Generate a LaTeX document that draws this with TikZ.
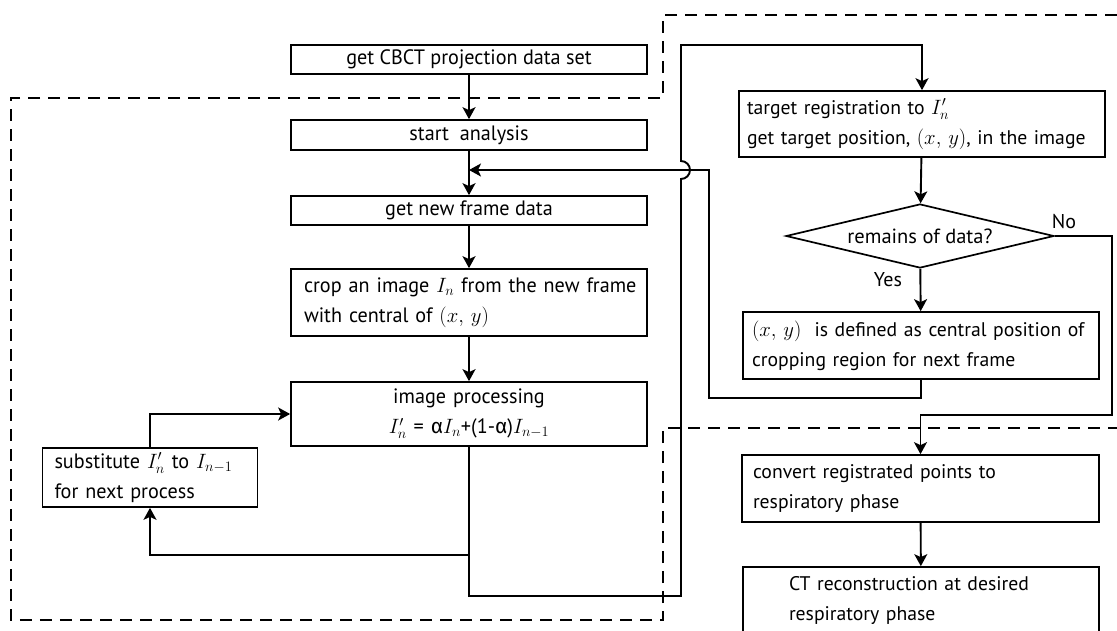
\documentclass[tikz,border=0pt]{standalone}
\usepackage{fontspec}
\setmainfont{PT Sans}
\newfontfamily\condfont[FakeStretch=0.97]{PT Sans}
\newfontfamily\grkfont{Fira Sans}
\usetikzlibrary{arrows.meta,shapes.geometric}
\begin{document}
\begin{tikzpicture}[x=1pt,y=-1pt,
  box/.style={draw,line width=1.7pt,inner ysep=0pt,minimum height=#1},
  lbox/.style={box=#1,font=\condfont\fontsize{20.8}{30}\selectfont},
  rbox/.style={box=#1,font=\fontsize{19.7}{30}\selectfont},
  arr/.style={line width=1.9pt,-{Stealth[length=12pt,width=13pt,inset=3pt]}},
  dsh/.style={line width=1.4pt,dash pattern=on 12pt off 8pt},
  lab/.style={font=\fontsize{20}{22}\selectfont,inner sep=0pt}]
\clip (0,0) rectangle (1117,630);
\useasboundingbox (0,0) rectangle (1117,630);
% left column
\node[lbox=29pt,minimum width=356pt,inner xsep=0pt] (b1) at (469,59.5) {get CBCT projection data set};
\node[lbox=30pt,minimum width=356pt,inner xsep=0pt] (b2) at (469,135) {start\ \ analysis};
\node[lbox=29pt,minimum width=356pt,inner xsep=0pt] (b3) at (469,210.5) {get new frame data};
\node[lbox=67pt,inner xsep=6pt,text width=344pt,align=left] (b4) at (469,302.5)
  {\hspace*{7pt}crop an image $I_n$ from the new frame\\\hspace*{7pt}with central of $(x,\,y)$};
\node[lbox=64pt,inner xsep=0pt,text width=356pt,align=center] (b5) at (469,414)
  {image processing\\$I_n'$ = {\grkfont α}$I_n$+(1-{\grkfont α})$I_{n-1}$};
\node[lbox=59pt,inner xsep=12pt,text width=191pt,align=left] (b6) at (150,477.5)
  {substitute $I_n'$ to $I_{n-1}$\\for next process};
% right column
\node[rbox=66pt,inner xsep=8pt,text width=350pt,align=left] (b7) at (922,124)
  {target registration to $I_n'$\\get target position, $(x,\,y)$, in the image};
\node[draw,diamond,line width=1.7pt,aspect=4.19,inner sep=0pt,minimum width=268pt,minimum height=64pt,
  font=\fontsize{20.5}{22}\selectfont] (d) at (920,236) {remains of data?};
\node[rbox=67pt,inner xsep=9pt,text width=338pt,align=left] (b8) at (921,345.5)
  {$(x,\,y)$\ \ is defined as central position of\\cropping region for next frame};
\node[rbox=67pt,inner xsep=11pt,text width=335pt,align=left] (b9) at (920.5,488.5)
  {convert registrated points to\\respiratory phase};
\node[rbox=67pt,inner xsep=46pt,text width=264pt,align=left] (b10) at (921,600.5)
  {CT reconstruction at desired\\respiratory phase};
\node[lab] (no) at (1064,222) {No};
\node[lab] (yes) at (888,280) {Yes};
% coordinates
\coordinate (j1) at (469,555);
\coordinate (j2) at (469,596);
\coordinate (j3) at (681,596);
\coordinate (j4) at (681,45);
\coordinate (k1) at (1112,236);
\coordinate (k2) at (1112,415);
\coordinate (k3) at (920.5,415);
\coordinate (m1) at (921,398);
\coordinate (m2) at (709,398);
\coordinate (m3) at (709,170);
\coordinate (m4) at (469,170);
% connectors
\draw[arr] (b1) -- (b2);
\draw[arr] (b2) -- (b3);
\draw[arr] (b3) -- (b4);
\draw[arr] (b4) -- (b5);
\draw[arr] (b5.south) -- (j1) -| (b6.south);
\draw[arr] (b6.north) |- (b5.west);
\draw[arr] (j1) -- (j2) -- (j3) -- (681,179) arc[start angle=-90,end angle=90,radius=9pt] -- (j4) -| (b7.north);
\draw[arr] (b7) -- (d);
\draw[arr] (d) -- (b8);
\draw[arr] (d.east) -- (k1) -- (k2) -- (k3) -- (b9.north);
\draw[arr] (b8.south) -- (m1) -- (m2) -- (m3) -- (m4);
\draw[arr] (b9) -- (b10);
% dashed regions
\draw[dsh] (1117,15) -- (663,15) -- (663,98) -- (11,98) -- (11,620) -- (663,620) -- (663,428) -- (1117,428);
\end{tikzpicture}
\end{document}
